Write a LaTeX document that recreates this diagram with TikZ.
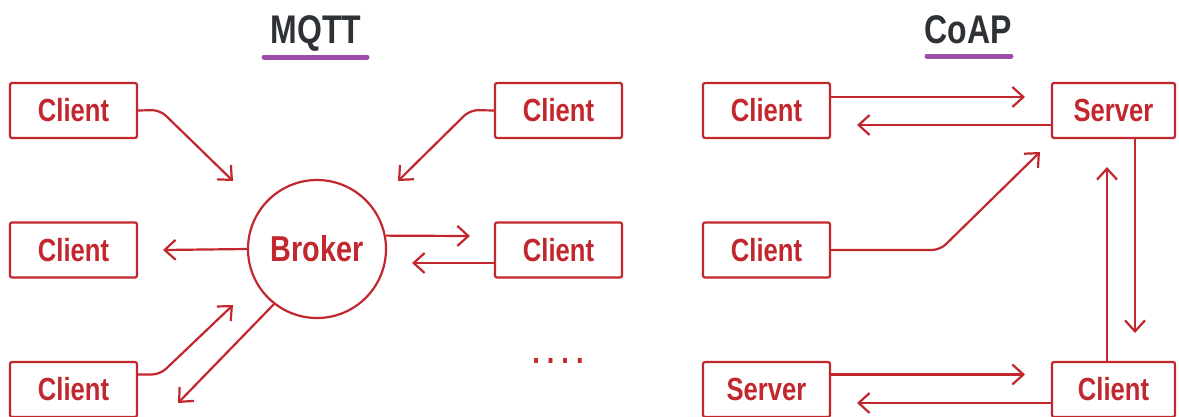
\documentclass[tikz,border=0pt]{standalone}
\usepackage{fontspec}
\setmainfont{Liberation Sans}
\newfontfamily\condfont[FakeStretch=0.8]{Liberation Sans}
\usetikzlibrary{arrows.meta,calc}
\definecolor{rd}{HTML}{C1272D}
\definecolor{ttl}{HTML}{2E3236}
\definecolor{pur}{HTML}{9C4DA8}
\begin{document}
\begin{tikzpicture}[x=1pt,y=-1pt,
  box/.style={draw=rd, line width=2.2pt, rounded corners=2pt, minimum width=127pt,
    minimum height=55pt, inner sep=0pt, text=rd,
    font=\condfont\bfseries\fontsize{32}{32}\selectfont},
  hub/.style={draw=rd, line width=2.2pt, circle, minimum size=138pt, inner sep=0pt, text=rd,
    font=\condfont\bfseries\fontsize{36}{36}\selectfont},
  conn/.style={draw=rd, line width=2.2pt, rounded corners=8pt,
    -{Straight Barb[length=11pt,width=20pt,line width=2.2pt]}},
  ttlstyle/.style={anchor=base, text=ttl, inner sep=0pt,
    font=\condfont\bfseries\fontsize{40}{40}\selectfont},
  uline/.style={draw=pur, line width=5pt, line cap=round},
]
\useasboundingbox (0,0) rectangle (1179,416);
\fill[white] (0,0) rectangle (1179,416);

% titles
\node[ttlstyle] (tmqtt) at (316,43) {MQTT};
\draw[uline] (264,57) -- (367,57);
\node[ttlstyle] (tcoap) at (968,43) {CoAP};
\draw[uline] (927,56) -- (1011,56);

% MQTT nodes
\node[box] (c1) at (73.5,110.5) {Client};
\node[box] (c2) at (73.5,250) {Client};
\node[box] (c3) at (73.5,389.5) {Client};
\node[hub] (broker) at (317,249) {Broker};
\node[box] (c4) at (558.5,110.5) {Client};
\node[box] (c5) at (558.5,250) {Client};
\node[text=rd, font=\condfont\bfseries\fontsize{34}{34}\selectfont, inner sep=0pt] (dots) at (558,361)
  {.\hskip7pt.\hskip7pt.\hskip7pt.};

% MQTT free ends
\coordinate (e1) at (233,181);
\coordinate (e2) at (163,250);
\coordinate (e3) at (233,305);
\coordinate (e4) at (178,403);
\coordinate (e5) at (398,181);
\coordinate (e6) at (470,236);
\coordinate (e7) at (412,263);

\draw[conn] (c1.east) -- (160,110) -- (e1);
\draw[conn] (broker.west) -- (e2);
\draw[conn] ($(c3.east)+(0,-15)$) -- (160,374.5) -- (e3);
\draw[conn] (broker.232) -- (e4);
\draw[conn] (c4.west) -- (470,110) -- (e5);
\draw[conn] (broker.11) -- (e6);
\draw[conn] ($(c5.west)+(0,13)$) -- (e7);

% CoAP nodes
\node[box] (k1) at (766.5,110.5) {Client};
\node[box, minimum width=123pt] (s1) at (1113.5,110.5) {Server};
\node[box] (k2) at (766.5,250) {Client};
\node[box] (s2) at (766.5,389.5) {Server};
\node[box, minimum width=123pt] (k3) at (1113.5,389.5) {Client};

\coordinate (f1) at (1025,97);
\coordinate (f2) at (857,125);
\coordinate (f3) at (1040,152);
\coordinate (f4) at (1135,333);
\coordinate (f5) at (1107,167);
\coordinate (f6) at (1025,374.5);
\coordinate (f7) at (857,403);

\draw[conn] ($(k1.east)+(0,-13.5)$) -- (f1);
\draw[conn] ($(s1.west)+(0,14.5)$) -- (f2);
\draw[conn] (k2.east) -- (940,250) -- (f3);
\draw[conn] ($(s1.south)+(21.5,0)$) -- (f4);
\draw[conn] ($(k3.north)+(-6.5,0)$) -- (f5);
\draw[conn] ($(s2.east)+(0,-15)$) -- (f6);
\draw[conn] ($(k3.west)+(0,13.5)$) -- (f7);
\end{tikzpicture}
\end{document}
